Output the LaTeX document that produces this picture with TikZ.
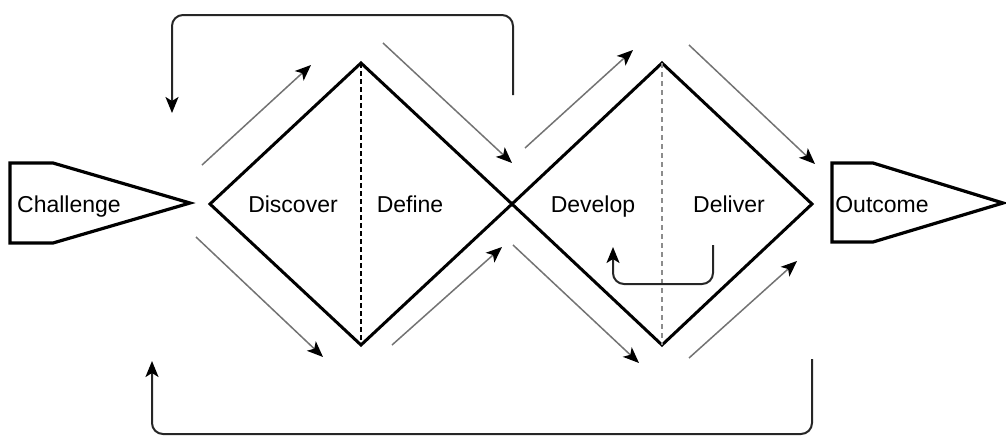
\documentclass[tikz,border=0pt]{standalone}
\usepackage{fontspec}
\setmainfont{Liberation Sans}
\usetikzlibrary{arrows.meta}
\begin{document}
\begin{tikzpicture}[x=1pt,y=-1pt,
  outline/.style={draw=black,line width=3pt,line join=miter},
  tipshape/.style={line width=3.2pt,line join=miter},
  divider/.style={line width=1.6pt,dash pattern=on 5pt off 3pt},
  flow/.style={draw=black!55,line width=1.5pt,-{Stealth[length=16pt,width=13pt,inset=4pt,color=black]}},
  loop/.style={draw=black!85,line width=2pt,rounded corners=11pt,-{Stealth[length=16pt,width=13pt,inset=4pt,color=black]}},
  label/.style={anchor=base,inner sep=0pt,font=\fontsize{23}{27}\selectfont}]
\useasboundingbox (0,0) rectangle (1006,437);

% start and end arrow shapes
\draw[tipshape] (10,163) -- (53,163) -- (190,203) -- (53,243) -- (10,243) -- cycle;
\draw[tipshape] (832,163) -- (873,163) -- (1003,203) -- (873,242) -- (832,242) -- cycle;

% diamond vertices
\coordinate (dA) at (210,204);
\coordinate (dAtop) at (361,63);
\coordinate (dAbot) at (361,345);
\coordinate (mid) at (512,204);
\coordinate (dBtop) at (662,63);
\coordinate (dBbot) at (662,345);
\coordinate (dB) at (812,204);

\draw[outline] (dA) -- (dAtop) -- (mid) -- (dAbot) -- cycle;
\draw[outline] (mid) -- (dBtop) -- (dB) -- (dBbot) -- cycle;
\draw[divider,black] (dAtop) -- (dAbot);
\draw[divider,black!45,line width=2.4pt,dash pattern=on 5pt off 4pt] (dBtop) -- (dBbot);

% labels
\node[label] (challenge) at (69,212) {Challenge};
\node[label] (discover) at (293,212) {Discover};
\node[label] (define) at (410,212) {Define};
\node[label] (develop) at (593,212) {Develop};
\node[label] (deliver) at (729,212) {Deliver};
\node[label] (outcome) at (882,212) {Outcome};

% flow arrows around the first diamond
\coordinate (a1s) at (202,165); \coordinate (a1e) at (311,65);
\coordinate (a2s) at (196,237); \coordinate (a2e) at (323,357);
\coordinate (a3s) at (392,345); \coordinate (a3e) at (502,247);
\coordinate (a4s) at (383,43);  \coordinate (a4e) at (512,163);
% flow arrows around the second diamond
\coordinate (a5s) at (525,148); \coordinate (a5e) at (633,50);
\coordinate (a6s) at (689,45);  \coordinate (a6e) at (815,164);
\coordinate (a7s) at (513,245); \coordinate (a7e) at (639,363);
\coordinate (a8s) at (689,358); \coordinate (a8e) at (797,261);

\draw[flow] (a1s) -- (a1e);
\draw[flow] (a2s) -- (a2e);
\draw[flow] (a3s) -- (a3e);
\draw[flow] (a4s) -- (a4e);
\draw[flow] (a5s) -- (a5e);
\draw[flow] (a6s) -- (a6e);
\draw[flow] (a7s) -- (a7e);
\draw[flow] (a8s) -- (a8e);

% feedback loops
\coordinate (topS) at (513,95);  \coordinate (topE) at (172,113);
\coordinate (botS) at (812,359); \coordinate (botE) at (152,361);
\coordinate (inS) at (713,245);  \coordinate (inE) at (613,247);
\draw[loop] (topS) -- (513,15) -- (172,15) -- (topE);
\draw[loop] (botS) -- (812,434) -- (152,434) -- (botE);
\draw[loop] (inS) -- (713,284) -- (613,284) -- (inE);
\end{tikzpicture}
\end{document}
